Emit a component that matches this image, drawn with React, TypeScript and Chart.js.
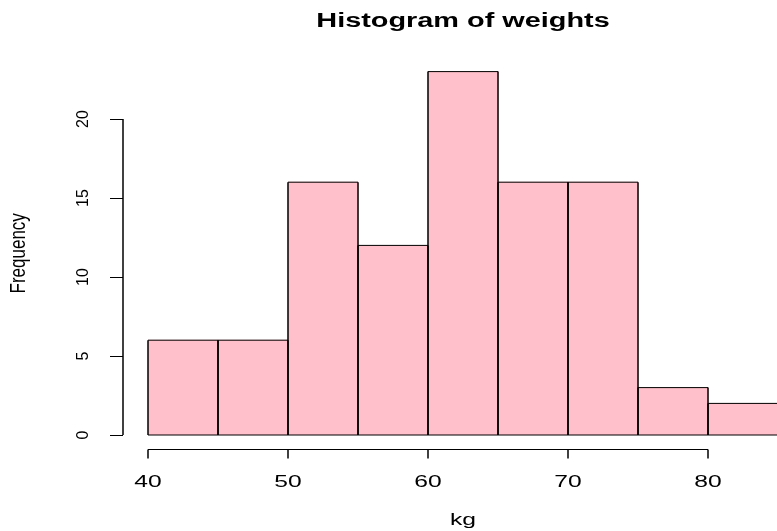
import React, { useEffect, useRef } from "react";
import { Chart, registerables } from "chart.js";

Chart.register(...registerables);

// Histogram bins (left edges) and counts
const binStarts = [40, 45, 50, 55, 60, 65, 70, 75, 80];
const binWidth = 5;
const frequencies = [6, 6, 16, 12, 23, 16, 16, 3, 2];

// Axis ticks
const xTicks = [40, 50, 60, 70, 80];
const yTicks = [0, 5, 10, 15, 20];

const titleText = "Histogram of weights";
const xLabel = "kg";
const yLabel = "Frequency";

const FAMILY = '"Liberation Sans", Arial, Helvetica, sans-serif';

function drawText(
  ctx: CanvasRenderingContext2D,
  text: string,
  x: number,
  y: number,
  font: string,
  sx: number,
  rotate = false
) {
  ctx.save();
  ctx.translate(x, y);
  ctx.scale(sx, 1);
  if (rotate) ctx.rotate(-Math.PI / 2);
  ctx.font = font;
  ctx.fillStyle = "#000";
  ctx.textAlign = "center";
  ctx.textBaseline = "alphabetic";
  ctx.fillText(text, 0, 0);
  ctx.restore();
}

// Base-graphics style outlines, axes and labels
const histDecor = {
  id: "histDecor",
  afterDatasetsDraw(chart: any) {
    const { ctx, chartArea } = chart;
    const xs = chart.scales.x;
    const ys = chart.scales.y;
    const meta = chart.getDatasetMeta(0);

    ctx.save();
    ctx.strokeStyle = "#000";
    meta.data.forEach((bar: any) => {
      const p = bar.getProps(["x", "y", "base", "width"], true);
      const l = p.x - p.width / 2;
      const r = p.x + p.width / 2;
      ctx.lineWidth = 1;
      ctx.beginPath();
      ctx.moveTo(l, p.y);
      ctx.lineTo(r, p.y);
      ctx.moveTo(l, p.base);
      ctx.lineTo(r, p.base);
      ctx.stroke();
      ctx.lineWidth = 1.5;
      ctx.beginPath();
      ctx.moveTo(l, p.y);
      ctx.lineTo(l, p.base);
      ctx.moveTo(r, p.y);
      ctx.lineTo(r, p.base);
      ctx.stroke();
    });

    // y axis
    const yAxisX = chartArea.left - 25;
    ctx.lineWidth = 1.5;
    ctx.beginPath();
    ctx.moveTo(yAxisX, ys.getPixelForValue(yTicks[0]));
    ctx.lineTo(yAxisX, ys.getPixelForValue(yTicks[yTicks.length - 1]));
    ctx.stroke();
    ctx.lineWidth = 1;
    yTicks.forEach((t) => {
      const py = Math.round(ys.getPixelForValue(t)) + 0.5;
      ctx.beginPath();
      ctx.moveTo(yAxisX - 13, py);
      ctx.lineTo(yAxisX, py);
      ctx.stroke();
      drawText(ctx, String(t), yAxisX - 35.5, ys.getPixelForValue(t), `16px ${FAMILY}`, 1.0, true);
    });

    // x axis
    const xAxisY = chartArea.bottom + 14.5;
    ctx.lineWidth = 1;
    ctx.beginPath();
    ctx.moveTo(xs.getPixelForValue(xTicks[0]), xAxisY);
    ctx.lineTo(xs.getPixelForValue(xTicks[xTicks.length - 1]), xAxisY);
    ctx.stroke();
    ctx.lineWidth = 1.5;
    xTicks.forEach((t) => {
      const px = xs.getPixelForValue(t);
      ctx.beginPath();
      ctx.moveTo(px, xAxisY);
      ctx.lineTo(px, xAxisY + 9);
      ctx.stroke();
      drawText(ctx, String(t), px, 486.5, `17px ${FAMILY}`, 1.45);
    });

    const cx = (chartArea.left + chartArea.right) / 2;
    drawText(ctx, titleText, cx, 26.5, `bold 19.5px ${FAMILY}`, 1.48);
    drawText(ctx, xLabel, cx, 525, `17px ${FAMILY}`, 1.45);
    const cy = (ys.getPixelForValue(-0.92) + ys.getPixelForValue(23.92)) / 2;
    drawText(ctx, yLabel, 25, cy, `17px ${FAMILY}`, 1.25, true);
    ctx.restore();
  },
};

export default function App() {
  const canvasRef = useRef<HTMLCanvasElement | null>(null);

  useEffect(() => {
    const canvas = canvasRef.current;
    if (!canvas) return;
    const chart = new Chart(canvas, {
      type: "bar",
      data: {
        datasets: [
          {
            data: binStarts.map((s, i) => ({ x: s + binWidth / 2, y: frequencies[i] })),
            backgroundColor: "#FFC0CB",
            borderWidth: 0,
            barPercentage: 1,
            categoryPercentage: 1,
          },
        ],
      },
      options: {
        animation: false,
        responsive: false,
        devicePixelRatio: 1,
        layout: { padding: { left: 148, right: 0, top: 40, bottom: 96 } },
        plugins: {
          legend: { display: false },
          tooltip: { enabled: false },
          title: { display: false },
        },
        scales: {
          x: { type: "linear", min: 40, max: 85, offset: false, display: false },
          y: { type: "linear", min: 0, max: 25, display: false },
        },
      },
      plugins: [histDecor],
    });
    return () => chart.destroy();
  }, []);

  // The plot region runs one pixel past the visible frame, so the last bin's right edge is clipped
  return (
    <div
      style={{
        position: "fixed",
        left: 0,
        top: 0,
        width: 777,
        height: 531,
        overflow: "hidden",
        background: "#fff",
      }}
    >
      <canvas ref={canvasRef} width={778} height={531} style={{ display: "block" }} />
    </div>
  );
}
